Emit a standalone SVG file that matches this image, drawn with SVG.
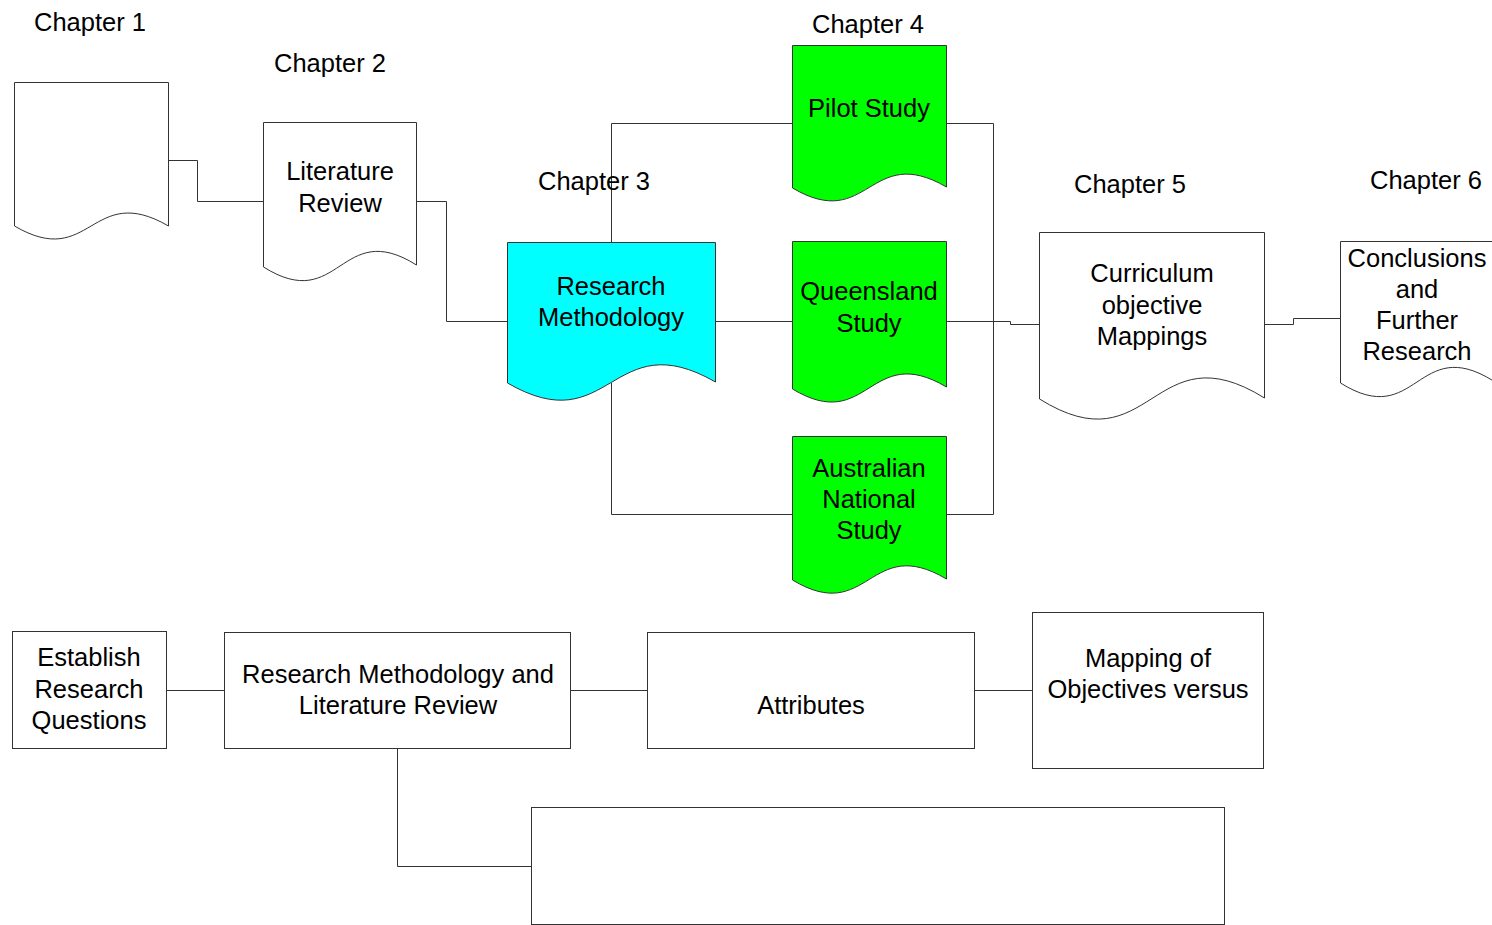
<svg xmlns="http://www.w3.org/2000/svg" width="1492" height="925" viewBox="0 0 1492 925">
  <style>
    text { font-family: "Liberation Sans", Arial, sans-serif; font-size: 25.5px; fill: #000; text-anchor: middle; }
    .doc { stroke: #333; stroke-width: 1; }
    .plain { fill: #fff; }
    .cyan { fill: #00ffff; }
    .green { fill: #00ff00; }
    .box { fill: #fff; stroke: #333; stroke-width: 1; }
    #connectors path { fill: none; stroke: #333; stroke-width: 1; }
  </style>
  <rect width="1492" height="925" fill="#fff"/>

  <!-- connectors -->
  <g id="connectors">
    <path d="M168,160.5 H197.5 V201.5 H263"/>
    <path d="M416,201.5 H446.5 V321.5 H507"/>
    <path d="M611.5,242 V123.5 H792"/>
    <path d="M715,321.5 H792"/>
    <path d="M611.5,383 V514.5 H792"/>
    <path d="M946,123.5 H993.5 V514.5 H946"/>
    <path d="M946,321.5 H1010.5 V324.5 H1039"/>
    <path d="M1264,324.5 H1293.5 V318.5 H1340"/>
    <path d="M166,690.5 H224"/>
    <path d="M570,690.5 H647"/>
    <path d="M974,690.5 H1032"/>
    <path d="M397.5,748 V866.5 H531"/>
  </g>

  <!-- chapter headings -->
  <g id="chapters">
    <text x="90" y="31">Chapter 1</text>
    <text x="330" y="72">Chapter 2</text>
    <text x="594" y="190">Chapter 3</text>
    <text x="868" y="33">Chapter 4</text>
    <text x="1130" y="193">Chapter 5</text>
    <text x="1426" y="189">Chapter 6</text>
  </g>

  <!-- chapter 1: blank document -->
  <g id="ch1">
    <path class="doc plain" d="M14.5,82.5 H168.5 V226 C91,181 91,271 14.5,226 Z"/>
  </g>

  <!-- chapter 2 -->
  <g id="literature-review">
    <path class="doc plain" d="M263.5,122.5 H416.5 V265 C340,217 340,315 263.5,267 Z"/>
    <text x="340" y="180">Literature</text>
    <text x="340" y="212">Review</text>
  </g>

  <!-- chapter 3 -->
  <g id="research-methodology">
    <path class="doc cyan" d="M507.5,242.5 H715.5 V382 C611,322 611,443 507.5,383 Z"/>
    <text x="611" y="295">Research</text>
    <text x="611" y="326">Methodology</text>
  </g>

  <!-- chapter 4 studies -->
  <g id="pilot-study">
    <path class="doc green" d="M792.5,45.5 H946.5 V187 C869,142 869,233 792.5,188 Z"/>
    <text x="869" y="117">Pilot Study</text>
  </g>
  <g id="queensland-study">
    <path class="doc green" d="M792.5,241.5 H946.5 V387 C869,341 869,435 792.5,389 Z"/>
    <text x="869" y="300">Queensland</text>
    <text x="869" y="332">Study</text>
  </g>
  <g id="australian-national-study">
    <path class="doc green" d="M792.5,436.5 H946.5 V579 C869,533 869,626 792.5,580 Z"/>
    <text x="869" y="477">Australian</text>
    <text x="869" y="508">National</text>
    <text x="869" y="539">Study</text>
  </g>

  <!-- chapter 5 -->
  <g id="curriculum-mappings">
    <path class="doc plain" d="M1039.5,232.5 H1264.5 V398 C1152,328 1152,469 1039.5,399 Z"/>
    <text x="1152" y="282">Curriculum</text>
    <text x="1152" y="314">objective</text>
    <text x="1152" y="345">Mappings</text>
  </g>

  <!-- chapter 6 -->
  <g id="conclusions">
    <path class="doc plain" d="M1340.5,241.5 H1493.5 V381 C1417,333 1417,431 1340.5,383 Z"/>
    <text x="1417" y="267">Conclusions</text>
    <text x="1417" y="298">and</text>
    <text x="1417" y="329">Further</text>
    <text x="1417" y="360">Research</text>
  </g>

  <!-- process row -->
  <g id="establish-questions">
    <rect class="box" x="12.5" y="631.5" width="154" height="117"/>
    <text x="89" y="666">Establish</text>
    <text x="89" y="698">Research</text>
    <text x="89" y="729">Questions</text>
  </g>
  <g id="methodology-literature">
    <rect class="box" x="224.5" y="632.5" width="346" height="116"/>
    <text x="398" y="683">Research Methodology and</text>
    <text x="398" y="714">Literature Review</text>
  </g>
  <g id="attributes">
    <rect class="box" x="647.5" y="632.5" width="327" height="116"/>
    <text x="811" y="714">Attributes</text>
  </g>
  <g id="mapping-objectives">
    <rect class="box" x="1032.5" y="612.5" width="231" height="156"/>
    <text x="1148" y="667">Mapping of</text>
    <text x="1148" y="698">Objectives versus</text>
  </g>
  <g id="empty-box">
    <rect class="box" x="531.5" y="807.5" width="693" height="117"/>
  </g>
</svg>
